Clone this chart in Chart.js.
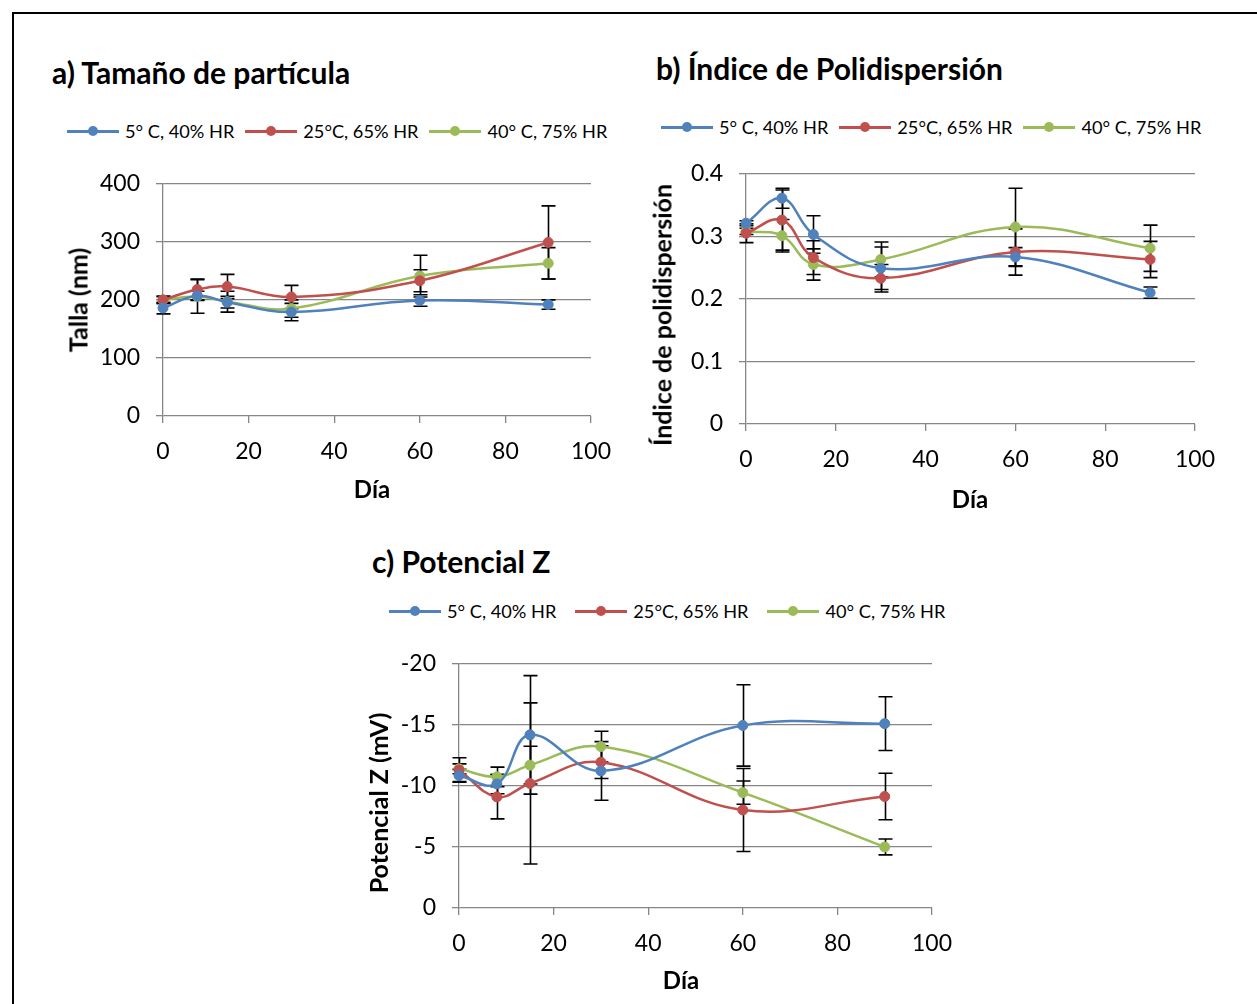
<!DOCTYPE html>
<html>
<head>
<meta charset="utf-8">
<script src="https://cdn.jsdelivr.net/npm/chart.js@4"></script>
<style>
  html, body { margin: 0; padding: 0; background: #fff; }
  body { width: 1257px; height: 1004px; overflow: hidden; position: relative; font-family: Lato, "Open Sans", sans-serif; }
  .frame { position: absolute; left: 12px; top: 12px; width: 1400px; height: 1200px; border: 2px solid #000; box-sizing: border-box; }
  .title { position: absolute; font-weight: bold; font-size: 30px; color: #000; line-height: 34px; white-space: nowrap; }
  .legend { position: absolute; display: flex; align-items: center; font-size: 18.2px; color: #000; white-space: nowrap; height: 22px; }
  .item { display: flex; align-items: center; }
  .sym { position: relative; width: 52px; height: 12px; margin-right: 6px; }
  .sym .ln { position: absolute; left: 0; right: 0; top: 5px; height: 2.5px; }
  .sym .dt { position: absolute; left: 21px; top: 1px; width: 10px; height: 10px; border-radius: 50%; }
  .axt { position: absolute; font-weight: bold; color: #000; white-space: nowrap; transform: translate(-50%, -50%); line-height: 1; }
  .axt.y { transform: translate(-50%, -50%) rotate(-90deg); font-size: 25px; }
  .axt.x { font-size: 24px; }
  canvas { position: absolute; }
</style>
</head>
<body>
<div class="frame"></div>

<div class="title" style="left:52px; top:55px;">a) Tamaño de partícula</div>
<div class="title" style="left:656px; top:51px;">b) Índice de Polidispersión</div>
<div class="title" style="left:372px; top:544px;">c) Potencial Z</div>

<div class="legend" id="legA" style="left:67px; top:120px;"></div>
<div class="legend" id="legB" style="left:661px; top:116px;"></div>
<div class="legend" id="legC" style="left:389px; top:600px;"></div>

<canvas id="cA" width="600" height="366" style="left:40px; top:154px;"></canvas>
<canvas id="cB" width="612" height="386" style="left:645px; top:144px;"></canvas>
<canvas id="cC" width="620" height="370" style="left:355px; top:634px;"></canvas>

<div class="axt y" style="left:78px; top:300px;">Talla (nm)</div>
<div class="axt x" style="left:372px; top:489px;">Día</div>
<div class="axt y" style="left:662px; top:315px;">Índice de polidispersión</div>
<div class="axt x" style="left:970px; top:499px;">Día</div>
<div class="axt y" style="left:378px; top:803px;">Potencial Z (mV)</div>
<div class="axt x" style="left:681px; top:980px;">Día</div>

<script>
// Sampling days and storage conditions
const days = [0, 8, 15, 30, 60, 90];
const conditions = ['5° C, 40% HR', '25°C, 65% HR', '40° C, 75% HR'];
const colors = ['#4F81BD', '#C0504D', '#9BBB59'];

// a) Particle size (nm)
const sizeCold = [186, 207, 196, 179, 199, 192];
const sizeRoom = [200, 218, 223, 205, 233, 299];
const sizeHot  = [200, 206, 197, 185, 241, 263];
const sizeColdErr = [10, 8, 10, 15, 10, 8];
const sizeRoomErr = [6, 18, 21, 20, 19, 63];
const sizeHotErr  = [6, 29, 18, 15, 36, 27];

// b) Polydispersity index
const pdiCold = [0.321, 0.361, 0.303, 0.249, 0.267, 0.210];
const pdiRoom = [0.305, 0.326, 0.266, 0.233, 0.275, 0.263];
const pdiHot  = [0.308, 0.301, 0.255, 0.263, 0.315, 0.281];
const pdiColdErr = [0.004, 0.016, 0.030, 0.034, 0.015, 0.009];
const pdiRoomErr = [0.015, 0.048, 0.027, 0.022, 0.037, 0.029];
const pdiHotErr  = [0.005, 0.026, 0.025, 0.028, 0.062, 0.037];

// c) Zeta potential (mV)
const zetaCold = [-10.85, -10.16, -14.18, -11.23, -14.95, -15.10];
const zetaRoom = [-11.30, -9.10, -10.20, -11.94, -8.03, -9.13];
const zetaHot  = [-11.40, -10.74, -11.70, -13.22, -9.45, -5.00];
const zetaColdErr = [0.5, 0.8, 4.85, 2.4, 3.33, 2.2];
const zetaRoomErr = [1.0, 1.8, 6.6, 1.34, 3.4, 1.9];
const zetaHotErr  = [0.4, 0.8, 1.55, 1.26, 0.95, 0.65];

// Axis tick settings
const xTicks = { min: 0, max: 100, step: 20 };
const sizeAxis = { min: 0, max: 400, step: 100 };
const pdiAxis = { min: 0, max: 0.4, step: 0.1 };
const zetaAxis = { min: -20, max: 0, step: 5 };

// HTML legends (line + marker symbol, then label)
function buildLegend(id, gap) {
  const el = document.getElementById(id);
  conditions.forEach((name, i) => {
    const item = document.createElement('div');
    item.className = 'item';
    if (i < conditions.length - 1) item.style.marginRight = gap + 'px';
    item.innerHTML = '<div class="sym"><div class="ln" style="background:' + colors[i] +
      '"></div><div class="dt" style="background:' + colors[i] + '"></div></div><span>' + name + '</span>';
    el.appendChild(item);
  });
}
buildLegend('legA', 11);
buildLegend('legB', 11);
buildLegend('legC', 19);

// Vertical error bars with caps, drawn through the chart scales
const errorBars = {
  id: 'errorBars',
  beforeDatasetsDraw(chart) {
    const ctx = chart.ctx;
    const xs = chart.scales.x, ys = chart.scales.y;
    ctx.save();
    ctx.strokeStyle = '#000';
    ctx.lineWidth = 1.6;
    chart.data.datasets.forEach(ds => {
      ds.data.forEach((pt, i) => {
        const e = ds.errors[i];
        const px = Math.round(xs.getPixelForValue(pt.x)) + 0.5;
        const y1 = ys.getPixelForValue(pt.y - e);
        const y2 = ys.getPixelForValue(pt.y + e);
        ctx.beginPath();
        ctx.moveTo(px, y1); ctx.lineTo(px, y2);
        ctx.moveTo(px - 7, y1); ctx.lineTo(px + 7, y1);
        ctx.moveTo(px - 7, y2); ctx.lineTo(px + 7, y2);
        ctx.stroke();
      });
    });
    ctx.restore();
  }
};

function makeDatasets(series, errs) {
  return series.map((vals, i) => ({
    label: conditions[i],
    data: days.map((d, j) => ({ x: d, y: vals[j] })),
    errors: errs[i],
    borderColor: colors[i],
    backgroundColor: colors[i],
    pointBackgroundColor: colors[i],
    pointBorderColor: colors[i],
    pointRadius: 5,
    pointBorderWidth: 1,
    borderWidth: 2.5,
    tension: 0.4,
    clip: false
  }));
}

function makeChart(id, cfg) {
  const grey = '#868686';
  return new Chart(document.getElementById(id), {
    type: 'line',
    data: { datasets: makeDatasets(cfg.series, cfg.errs) },
    plugins: [errorBars],
    options: {
      responsive: false,
      animation: false,
      events: [],
      layout: { padding: cfg.padding },
      plugins: { legend: { display: false }, title: { display: false }, tooltip: { enabled: false } },
      scales: {
        x: {
          type: 'linear',
          min: xTicks.min, max: xTicks.max,
          afterFit: s => { s.height = cfg.xHeight; },
          border: { display: false },
          grid: { drawOnChartArea: false, drawTicks: true, tickLength: 7, color: grey, lineWidth: 1.3 },
          ticks: { stepSize: xTicks.step, padding: 15, color: '#000', font: { family: 'Lato', size: 23 } }
        },
        y: {
          min: cfg.axis.min, max: cfg.axis.max,
          reverse: !!cfg.reverse,
          afterFit: s => { s.width = cfg.yWidth; },
          border: { display: true, color: grey, width: 1.3 },
          grid: { drawTicks: true, tickLength: 7, color: grey, lineWidth: 1.3 },
          ticks: { stepSize: cfg.axis.step, padding: 16, color: '#000', font: { family: 'Lato', size: 23 } }
        }
      }
    }
  });
}

makeChart('cA', {
  series: [sizeCold, sizeRoom, sizeHot],
  errs: [sizeColdErr, sizeRoomErr, sizeHotErr],
  axis: sizeAxis,
  padding: { left: 0, top: 23, right: 49, bottom: 0 },
  yWidth: 123, xHeight: 104
});

makeChart('cB', {
  series: [pdiCold, pdiRoom, pdiHot],
  errs: [pdiColdErr, pdiRoomErr, pdiHotErr],
  axis: pdiAxis,
  padding: { left: 0, top: 23, right: 62, bottom: 0 },
  yWidth: 101, xHeight: 106
});

makeChart('cC', {
  series: [zetaCold, zetaRoom, zetaHot],
  errs: [zetaColdErr, zetaRoomErr, zetaHotErr],
  axis: zetaAxis,
  reverse: true,
  padding: { left: 0, top: 23, right: 43, bottom: 0 },
  yWidth: 104, xHeight: 96
});
</script>
</body>
</html>
